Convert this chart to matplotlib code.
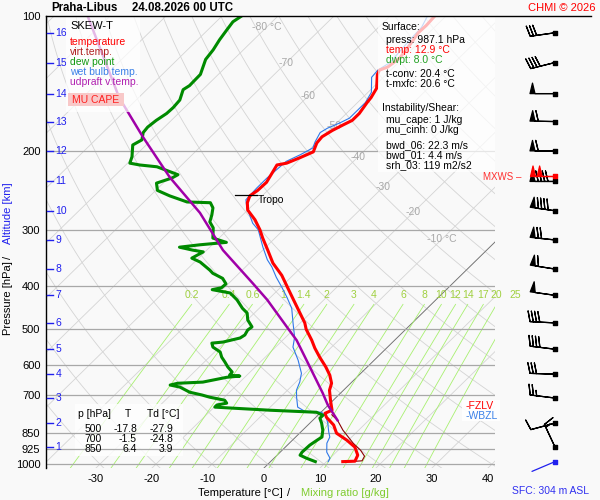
import numpy as np
import matplotlib.pyplot as plt
import matplotlib.transforms as mtransforms
from matplotlib.patches import Rectangle
from matplotlib.lines import Line2D
from matplotlib.ticker import NullLocator

plt.rcParams['font.family'] = ['Liberation Sans', 'DejaVu Sans']

# ---- sounding data (pressure hPa, temperature degC) ----
temp_p = [987.1, 985, 955, 945, 916, 884, 853, 818, 786, 770, 758, 720, 684, 660,
          633, 607, 577, 551, 529, 500, 484, 458, 426, 403, 379, 356, 333, 313,
          300, 285, 271, 261, 252, 245, 235, 224, 215, 213, 207, 201, 192, 186,
          180, 175, 171, 165, 156, 152, 145, 135, 132, 130, 124, 116, 109, 105, 100]
temp_t = [12.9, 15.0, 14.4, 13.9, 12.4, 9.7, 6.6, 4.6, 1.9, 0.9, 1.6, -0.5, -2.5, -3.4,
          -5.2, -7.4, -10.3, -12.8, -14.8, -17.8, -19.2, -22.1, -25.9, -28.8, -32.0, -35.8, -39.1, -42.2,
          -44.2, -46.9, -50.0, -51.4, -52.2, -51.8, -51.7, -52.4, -53.0, -51.6, -50.2, -48.9, -49.9, -50.1,
          -49.4, -48.5, -47.7, -47.7, -48.3, -48.5, -49.2, -51.6, -52.0, -51.1, -50.6, -51.2, -51.9, -51.8, -52.0]

virt_p = [987.1, 983, 960, 931, 898, 840, 798, 776]
virt_t = [14.2, 16.2, 15.8, 14.0, 11.4, 7.2, 4.4, 2.4]

dew_p = [987.1, 970, 955, 940, 907, 884, 870, 840, 810, 790, 778, 766, 758, 750, 746, 738,
         731, 720, 709, 701, 691, 673, 666, 660, 656, 640, 636, 633, 623, 607, 592, 577,
         562, 548, 537, 534, 523, 515, 502, 494, 477, 460, 449, 430, 415, 408, 404, 396,
         385, 375, 369, 354, 347, 336, 333, 328, 324, 320, 313, 297, 288, 278, 268, 261,
         260, 252, 245, 236, 230, 226, 217, 215, 213, 206, 194, 189, 182, 177, 171, 165,
         160, 154, 146, 143, 135, 125, 119, 113, 107.5, 103, 100]
dew_t = [8.0, 5.8, 4.1, 3.9, 4.0, 4.4, 4.7, 3.6, 2.1, 0.9, 0.9, -0.8, -9.5, -16.5, -19.9, -19.9,
         -18.5, -19.4, -22.6, -24.4, -27.1, -29.8, -31.9, -30.9, -26.6, -23.2, -21.1, -23.1, -23.2, -24.9, -26.3, -27.8,
         -29.0, -31.2, -32.1, -30.3, -28.0, -27.7, -28.1, -27.9, -29.9, -31.3, -33.0, -35.5, -38.0, -41.8, -40.5, -40.4,
         -42.0, -44.7, -45.8, -49.0, -51.2, -50.3, -52.5, -55.4, -52.2, -47.9, -51.1, -52.9, -54.6, -55.5, -56.6, -58.0,
         -62.3, -66.5, -69.7, -71.2, -69.4, -68.9, -74.1, -77.5, -79.6, -80.4, -82.4, -81.7, -82.8, -83.0, -82.7, -82.1,
         -82.0, -82.2, -83.5, -83.1, -83.2, -85.0, -85.4, -86.1, -86.6, -87.0, -86.5]

wetb_p = [987.1, 970, 940, 898, 870, 848, 810, 782, 766, 762, 746, 709, 684, 656, 627, 586,
          548, 521, 484, 449, 424, 403, 383, 363, 350, 328, 300, 290, 267, 257, 242, 230,
          211, 204, 197, 191, 182, 178, 173, 169, 162, 156, 148, 137, 132, 127, 113, 106, 100]
wetb_t = [10.3, 10.0, 8.3, 6.7, 6.1, 5.0, 3.2, 1.6, 0.1, -3.1, -5.1, -7.1, -8.4, -9.3, -10.6, -13.6,
          -16.9, -18.4, -21.3, -24.2, -27.1, -29.8, -32.6, -35.3, -37.4, -40.5, -44.5, -46.7, -50.7, -52.2, -52.4, -52.4,
          -52.0, -50.7, -49.7, -50.4, -51.2, -50.7, -49.4, -48.6, -48.6, -48.6, -49.4, -52.1, -52.3, -51.5, -52.1, -52.3, -53.3]

parcel_p = [798, 738, 694, 595, 529, 502, 430, 395, 333, 275, 229, 186, 152, 100]
parcel_t = [4.4, -0.1, -3.2, -11.3, -17.5, -20.7, -30.1, -35.7, -47.1, -58.0, -69.9, -82.1, -93.5, -114.0]

tropo_p = 251
tropo_t = -51.0

# altitude scale (km) and the pressure it sits at
alt_km = [16, 15, 14, 13, 12, 11, 10, 9, 8, 7, 6, 5, 4, 3, 2, 1]
alt_p = [109, 127, 149, 172, 200, 234, 272, 316, 367, 420, 484, 554, 630, 712, 810, 916]

# winds at the altitude levels (direction deg, speed kt)
wind_dir = [262, 256, 270, 271, 270, 270, 278, 276, 279, 278, 273, 277, 272, 277, 255, 335]
wind_spd = [30, 40, 50, 60, 60, 90, 90, 70, 60, 50, 40, 40, 30, 25, 10, 15]
mxws_p, mxws_dir, mxws_spd = 228, 270, 100
sfc_p, sfc_dir = 987.1, 247

# table
tbl_p = [500, 700, 850]
tbl_t = [-17.8, -1.5, 6.4]
tbl_td = [-27.9, -24.8, 3.9]

surface_lines = [("Surface:", 'black', 382, 27),
                 ("press: 987.1 hPa", 'black', 386, 40),
                 ("temp: 12.9 \u00b0C", 'red', 386, 50),
                 ("dwpt: 8.0 \u00b0C", '#22a022', 386, 60),
                 ("t-conv: 20.4 \u00b0C", 'black', 386, 74),
                 ("t-mxfc: 20.6 \u00b0C", 'black', 386, 84),
                 ("Instability/Shear:", 'black', 382, 108),
                 ("mu_cape: 1 J/kg", 'black', 386, 120),
                 ("mu_cinh: 0 J/kg", 'black', 386, 130),
                 ("bwd_06: 22.3 m/s", 'black', 386, 145),
                 ("bwd_01: 4.4 m/s", 'black', 386, 155),
                 ("srh_03: 119 m2/s2", 'black', 386, 165)]

legend_items = [("SKEW-T", 'black'), ("temperature", 'red'), ("virt.temp.", '#b02020'),
                ("dew point", '#119911'), ("wet bulb temp.", '#3a80e8'),
                ("udpraft v.temp.", '#b020b0')]

mix_w = [0.2, 0.4, 0.6, 1, 1.4, 2, 3, 4, 6, 8, 10, 12, 14, 17, 20, 25]
iso_lbl_t = [-80, -70, -60, -50, -40, -30, -20, -10]
iso_lbl_p = [106, 127, 151, 176, 206, 241, 274, 315]
isobars = [200, 300, 400, 500, 600, 700, 850, 925, 1000]

W, H = 600, 500
P_BOT, P_TOP = 1020.0, 100.0
SKEW = 81.8  # degC per decade of pressure
BG = '#f9f9f9'


def skx(t, p):
    return np.asarray(t, float) + SKEW * np.log10(P_BOT / np.asarray(p, float))


def td_of_w(w, p):
    e = w * p / (622.0 + w)
    a = np.log(e / 6.112)
    return 243.5 * a / (17.67 - a)


def fx(x):
    return x / W


def fy(y):
    return 1 - y / H


def ftext(x, y, s, **kw):
    kw.setdefault('va', 'center')
    kw.setdefault('fontsize', 7.5)
    fig.text(fx(x), fy(y), s, **kw)


def fbox(x0, y0, x1, y1, **kw):
    r = Rectangle((fx(x0), fy(y1)), (x1 - x0) / W, (y1 - y0) / H,
                  transform=fig.transFigure, clip_on=False, **kw)
    ax.add_patch(r)


fig = plt.figure(figsize=(6, 5), dpi=100, facecolor=BG)
ax = fig.add_axes([fx(46), fy(468), 449 / W, 452 / H], facecolor=BG)
ax.set_yscale('log')
ax.set_ylim(P_BOT, P_TOP)
ax.set_xlim(-38.93, 41.25)

pp = np.logspace(np.log10(P_BOT), np.log10(P_TOP), 120)

# isotherms
for t in range(-130, 50, 10):
    ax.plot(skx([t, t], [P_BOT, P_TOP]), [P_BOT, P_TOP], color='#d4d4d4', lw=0.6, zorder=1)
ax.plot(skx([0, 0], [P_BOT, P_TOP]), [P_BOT, P_TOP], color='#707070', lw=0.6, zorder=1.2)

# dry adiabats
for th in range(-40, 240, 10):
    tt = (th + 273.15) * (pp / 1000.0) ** 0.2857 - 273.15
    ax.plot(skx(tt, pp), pp, color='#d4d4d4', lw=0.6, zorder=1)

# mixing ratio lines
pm = np.logspace(np.log10(P_BOT), np.log10(440), 40)
for w in mix_w:
    ax.plot(skx(td_of_w(w, pm), pm), pm, color='#a8f070', lw=0.6, zorder=1.3)
    lbl = ('%g' % w)
    ax.text(skx(td_of_w(w, 440.0), 440.0), 420, lbl, color='#a0d040', fontsize=7.5,
            ha='center', va='center', clip_on=False, zorder=2)

# isobars
for p in isobars:
    ax.axhline(p, color='#a8a8a8', lw=0.9, zorder=2)

# isotherm labels
for t, p in zip(iso_lbl_t, iso_lbl_p):
    s = '%d' % t
    if t in (-80, -10):
        s += ' \u00b0C'
    ax.text(skx(t, p), p, s, color='#a8a8a8', fontsize=7.5, ha='center', va='center', zorder=1.5)

# profiles
ax.plot(skx(wetb_t, wetb_p), wetb_p, color='#2f78e8', lw=0.8, zorder=3)
ax.plot(skx(virt_t, virt_p), virt_p, color='#8b0000', lw=0.8, zorder=3.5)
ax.plot(skx(temp_t, temp_p), temp_p, color='#ff0000', lw=2.2, zorder=4)
ax.plot(skx(dew_t, dew_p), dew_p, color='#008a00', lw=2.2, zorder=4)
ax.plot(skx(parcel_t, parcel_p), parcel_p, color='#a000a8', lw=1.8, zorder=5)

# tropopause
ax.plot(skx([tropo_t - 4, tropo_t], [tropo_p, tropo_p]), [tropo_p, tropo_p], color='black', lw=0.9, zorder=6)
ax.text(skx(tropo_t, tropo_p), tropo_p, 'Tropo', fontsize=7.5, ha='left', va='top', zorder=6)

# altitude scale
blend = mtransforms.blended_transform_factory(ax.transAxes, ax.transData)
for km, p in zip(alt_km, alt_p):
    ax.plot([0.002, 0.016], [p, p], color='#2020ee', lw=1.0, transform=blend, zorder=6, clip_on=False)
    ax.text(0.021, p, str(km), color='#2020ee', fontsize=7.5, va='center', ha='left', transform=blend, zorder=6)

# axes styling
ax.set_yticks(isobars + [100])
ax.set_yticklabels([str(p) for p in isobars] + ['100'], fontsize=8)
ax.yaxis.set_minor_locator(NullLocator())
ax.set_xticks(range(-30, 50, 10))
ax.set_xticklabels([str(t) for t in range(-30, 50, 10)], fontsize=8)
ax.tick_params(length=0, pad=4)
for side in ('top', 'right', 'bottom'):
    ax.spines[side].set_visible(False)
ax.spines['left'].set_color('black')
ax.spines['left'].set_linewidth(1.0)
fig.add_artist(Line2D([fx(46), fx(591)], [fy(16), fy(16)], color='black', lw=1.0))

# semi transparent boxes
fbox(66, 16, 140, 112, facecolor='white', alpha=0.72, edgecolor='none', zorder=7)
fbox(378, 16, 495, 172, facecolor='white', alpha=0.72, edgecolor='none', zorder=7)
fbox(75, 404, 183, 456, facecolor='white', alpha=0.8, edgecolor='none', zorder=1.8)
fbox(462, 400, 500, 421, facecolor='white', alpha=0.9, edgecolor='none', zorder=7)
fbox(68, 93, 124, 106, facecolor='#f8c8c8', edgecolor='none', zorder=7.5)

# legend text
for i, (s, c) in enumerate(legend_items):
    ftext(70, 26 + (16 if i else 0) + max(i - 1, 0) * 10, s, color=c, fontsize=7.5 if i else 8)
ftext(96, 100, 'MU CAPE', color='#ff2020', fontsize=7.5, ha='center')

for s, c, x, y in surface_lines:
    ftext(x, y, s, color=c)

# table
ftext(78, 414, 'p [hPa]')
ftext(128, 414, 'T', ha='center')
ftext(147, 414, 'Td [\u00b0C]')
for i in range(len(tbl_p)):
    y = 429 + 10 * i
    ftext(102, y, str(tbl_p[i]), ha='right')
    ftext(137, y, '%.1f' % tbl_t[i], ha='right')
    ftext(173, y, '%.1f' % tbl_td[i], ha='right')

ftext(466, 406, '-FZLV', color='red')
ftext(466, 416, '-WBZL', color='#3a80e8')
ftext(483, 177, 'MXWS \u2013', color='#ff3030', fontsize=7)

# titles and axis labels
ftext(51, 8, 'Praha-Libus', fontsize=8.3, fontweight='bold')
ftext(132, 8, '24.08.2026 00 UTC', fontsize=8.3, fontweight='bold')
ftext(596, 8, 'CHMI \u00a9 2026', color='red', fontsize=8, ha='right')
ftext(240, 493, 'Temperature [\u00b0C]', fontsize=8, ha='center')
ftext(289, 493, '/', fontsize=8, ha='center')
ftext(345, 493, 'Mixing ratio [g/kg]', fontsize=8, ha='center', color='#80cc30')
ftext(551, 491, 'SFC: 304 m ASL', fontsize=7.5, ha='center', color='#3030f0')
ftext(8, 298, 'Pressure [hPa]', fontsize=8, ha='center', rotation=90)
ftext(8, 257, '/', fontsize=8, ha='center', rotation=90)
ftext(8, 213, 'Altitude [km]', fontsize=8, ha='center', rotation=90, color='#2020ee')

# wind barbs
axw = fig.add_axes([fx(500), fy(468), 100 / W, 452 / H])
axw.set_yscale('log')
axw.set_ylim(P_BOT, P_TOP)
axw.set_xlim(0, 1)
axw.axis('off')
rad = np.radians(wind_dir)
u = -np.array(wind_spd) * np.sin(rad)
v = -np.array(wind_spd) * np.cos(rad)
xs = np.full(len(alt_p), 0.55)
bsize = dict(spacing=0.13, height=0.42, width=0.2)
axw.barbs(xs, alt_p, u, v, length=6, lw=0.9, color='black', sizes=bsize)
axw.scatter(xs, alt_p, marker='s', s=5, color='black', zorder=3)
mr = np.radians(mxws_dir)
axw.barbs([0.55], [mxws_p], [-mxws_spd * np.sin(mr)], [-mxws_spd * np.cos(mr)],
          length=6, lw=0.9, color='red', sizes=bsize, zorder=4)
axw.scatter([0.55], [mxws_p], marker='s', s=5, color='red', zorder=4)
sr = np.radians(sfc_dir)
axw.annotate('', xy=(0.55, sfc_p), xytext=(18 * np.sin(sr), 18 * np.cos(sr)),
             textcoords='offset points',
             arrowprops=dict(arrowstyle='-', color='#2020ee', lw=0.9, shrinkA=0, shrinkB=0))
axw.scatter([0.55], [sfc_p], marker='s', s=5, color='#2020ee', zorder=3)

fig.savefig('out.png', dpi=100, facecolor=BG)
